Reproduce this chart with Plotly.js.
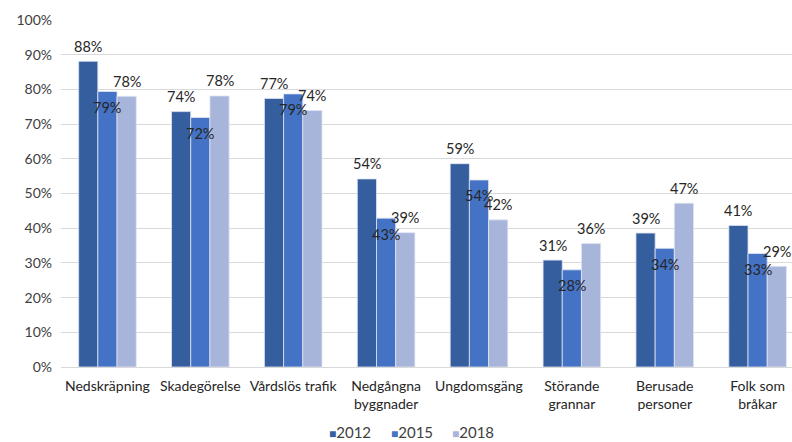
<!DOCTYPE html>
<html>
<head>
<meta charset="utf-8">
<script src="https://cdn.plot.ly/plotly-3.0.1.min.js"></script>
<style>html,body{margin:0;padding:0;background:#fff;}#chart{width:792px;height:442px;}</style>
</head>
<body>
<div id="chart"></div>
<script>
const categories = ["Nedskräpning", "Skadegörelse", "Vårdslös trafik", "Nedgångna<br>byggnader", "Ungdomsgäng", "Störande<br>grannar", "Berusade<br>personer", "Folk som<br>bråkar"];
const seriesNames = ["2012", "2015", "2018"];
const v2012 = [0.881, 0.736, 0.774, 0.542, 0.586, 0.308, 0.386, 0.408];
const v2015 = [0.794, 0.719, 0.787, 0.429, 0.539, 0.280, 0.342, 0.327];
const v2018 = [0.780, 0.781, 0.739, 0.387, 0.424, 0.356, 0.472, 0.290];
const yTicks = [0, 0.1, 0.2, 0.3, 0.4, 0.5, 0.6, 0.7, 0.8, 0.9, 1.0];

const colors = ["#355E9F", "#4472C4", "#A8B5DA"];
const allVals = [v2012, v2015, v2018];
const font = "Lato, 'Open Sans', sans-serif";

const traces = allVals.map((vals, i) => ({
  type: "bar",
  name: seriesNames[i],
  x: categories,
  y: vals,
  marker: {color: colors[i], line: {color: "#dfe5f3", width: 0.8}},
  hoverinfo: "skip",
  showlegend: false
}));

// data labels: 2012 & 2018 above the bar end, 2015 just below the bar end
const barPx = 19.2;
const xOff = [-barPx, 0, barPx];
const yOff = [15, -16, 15];
const annotations = [];
allVals.forEach((vals, i) => {
  vals.forEach((v, j) => {
    annotations.push({
      x: categories[j], y: v, xref: "x", yref: "y",
      text: Math.round(v * 100) + "%",
      showarrow: false, xshift: xOff[i], yshift: yOff[i],
      xanchor: "center", yanchor: "middle",
      font: {family: font, size: 14.5, color: "#262626"}
    });
  });
});

// compact legend at the bottom (square marker + year)
const plotLeft = 61, plotW = 731, plotBottom = 367, plotH = 347;
const legendPx = [327, 389, 450];
seriesNames.forEach((name, i) => {
  annotations.push({
    xref: "paper", yref: "paper",
    x: (legendPx[i] - plotLeft) / plotW, y: (plotBottom - 432) / plotH,
    xanchor: "left", yanchor: "middle", showarrow: false,
    text: "<span style='color:" + colors[i] + ";font-size:12px'>■</span>" + name,
    font: {family: font, size: 15, color: "#404040"}
  });
});

const layout = {
  width: 792, height: 442,
  margin: {l: 61, r: 0, t: 20, b: 75, autoexpand: false},
  paper_bgcolor: "#fff", plot_bgcolor: "#fff",
  barmode: "group", bargap: 0.38, bargroupgap: 0,
  font: {family: font, size: 14, color: "#404040"},
  xaxis: {
    type: "category", range: [-0.5, 7.37], automargin: false,
    showgrid: false, showline: true, linecolor: "#d9d9d9", linewidth: 1,
    ticks: "", tickfont: {family: font, size: 14, color: "#262626"},
    ticklabelstandoff: 6, fixedrange: true
  },
  yaxis: {
    range: [0, 1.0], tickvals: yTicks, tickformat: ".0%", automargin: false,
    showgrid: true, gridcolor: "#d9d9d9", gridwidth: 1,
    zeroline: false, showline: false, ticks: "",
    tickfont: {family: font, size: 14, color: "#404040"},
    ticklabelstandoff: 8, fixedrange: true
  },
  showlegend: false,
  annotations: annotations
};

Plotly.newPlot("chart", traces, layout, {displayModeBar: false, staticPlot: true});
</script>
</body>
</html>
